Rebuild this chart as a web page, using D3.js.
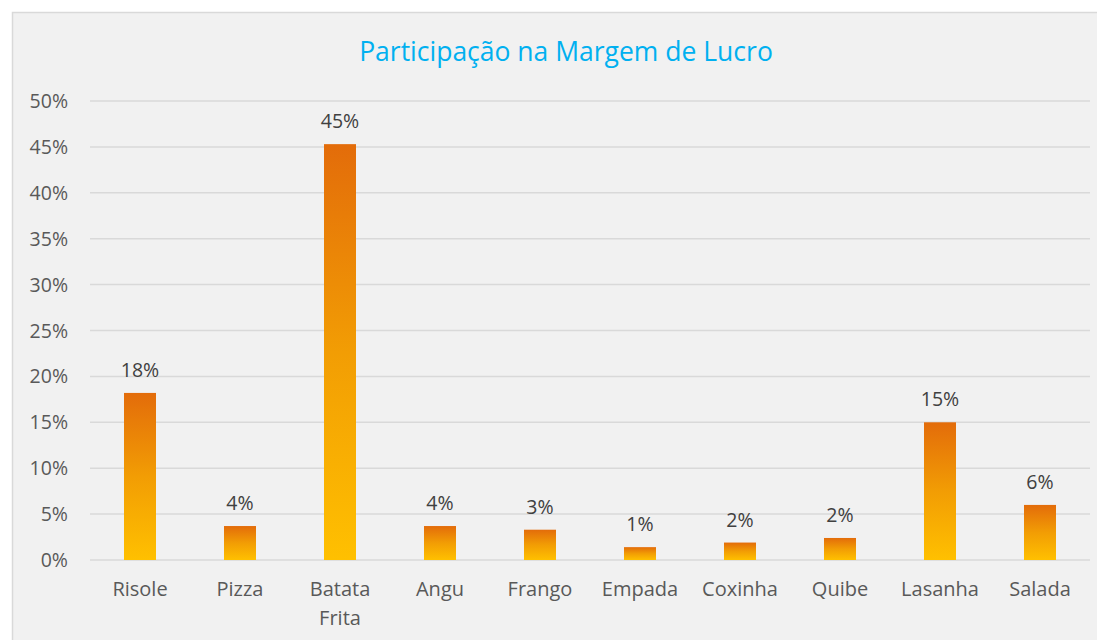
<!DOCTYPE html>
<html>
<head>
<meta charset="utf-8">
<script src="https://cdn.jsdelivr.net/npm/d3@7"></script>
<style>
  body { margin: 0; background: #fff; }
</style>
</head>
<body>
<svg></svg>
<script>
const categories = ["Risole", "Pizza", "Batata Frita", "Angu", "Frango", "Empada", "Coxinha", "Quibe", "Lasanha", "Salada"];
const values = [0.182, 0.037, 0.453, 0.037, 0.033, 0.014, 0.019, 0.024, 0.150, 0.060];
const yTicks = [0, 0.05, 0.10, 0.15, 0.20, 0.25, 0.30, 0.35, 0.40, 0.45, 0.50];

const width = 1097, height = 640;
const margin = { top: 101, right: 7, bottom: 80, left: 90 };

const svg = d3.select("svg")
    .attr("width", width)
    .attr("height", height)
    .style("font-family", "'Open Sans', 'Noto Sans', sans-serif");

// chart background + border
svg.append("rect")
    .attr("x", 12.5)
    .attr("y", 12.5)
    .attr("width", width)
    .attr("height", height)
    .attr("fill", "#F1F1F1")
    .attr("stroke", "#D9D9D9")
    .attr("stroke-width", 1.5);

const x = d3.scaleBand()
    .domain(categories)
    .range([margin.left, width - margin.right])
    .paddingInner(0.68)
    .paddingOuter(0.34);

const y = d3.scaleLinear()
    .domain([0, 0.5])
    .range([height - margin.bottom, margin.top]);

const grad = svg.append("defs").append("linearGradient")
    .attr("id", "barGrad")
    .attr("x1", 0).attr("y1", 0)
    .attr("x2", 0).attr("y2", 1);
grad.append("stop").attr("offset", "0%").attr("stop-color", "#E36C0A");
grad.append("stop").attr("offset", "50%").attr("stop-color", "#F29D04");
grad.append("stop").attr("offset", "100%").attr("stop-color", "#FFC000");

// gridlines
svg.append("g")
    .selectAll("line")
    .data(yTicks)
    .join("line")
    .attr("x1", margin.left)
    .attr("x2", width - margin.right)
    .attr("y1", d => y(d))
    .attr("y2", d => y(d))
    .attr("stroke", "#D9D9D9")
    .attr("stroke-width", 1.5);

// y axis labels
svg.append("g")
    .selectAll("text")
    .data(yTicks)
    .join("text")
    .attr("x", 68)
    .attr("y", d => y(d) + 7)
    .attr("text-anchor", "end")
    .attr("font-size", "19.5px")
    .attr("fill", "#595959")
    .text(d => d3.format(".0%")(d));

const data = categories.map((c, i) => ({ cat: c, v: values[i] }));

svg.append("g")
    .selectAll("rect")
    .data(data)
    .join("rect")
    .attr("x", d => x(d.cat))
    .attr("y", d => y(d.v))
    .attr("width", x.bandwidth())
    .attr("height", d => y(0) - y(d.v))
    .attr("fill", "url(#barGrad)");

// data labels
svg.append("g")
    .selectAll("text")
    .data(data)
    .join("text")
    .attr("x", d => x(d.cat) + x.bandwidth() / 2)
    .attr("y", d => y(d.v) - 16)
    .attr("text-anchor", "middle")
    .attr("font-size", "19.5px")
    .attr("fill", "#404040")
    .text(d => d3.format(".0%")(d.v));

// category labels
const catLabels = svg.append("g")
    .selectAll("text")
    .data(categories)
    .join("text")
    .attr("x", d => x(d) + x.bandwidth() / 2)
    .attr("y", y(0) + 36)
    .attr("text-anchor", "middle")
    .attr("font-size", "20px")
    .attr("fill", "#595959");

catLabels.each(function(d) {
    const words = d.split(" ");
    const t = d3.select(this);
    words.forEach((w, i) => {
        t.append("tspan")
            .attr("x", x(d) + x.bandwidth() / 2)
            .attr("dy", i === 0 ? 0 : 29)
            .text(w);
    });
});

// title
svg.append("text")
    .attr("x", 566)
    .attr("y", 61)
    .attr("text-anchor", "middle")
    .attr("font-size", "26.5px")
    .attr("fill", "#00B0F0")
    .text("Participação na Margem de Lucro");
</script>
</body>
</html>
